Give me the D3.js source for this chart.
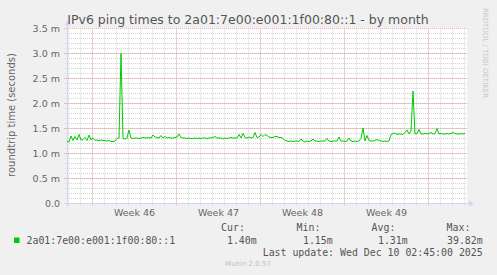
<!DOCTYPE html>
<html>
<head>
<meta charset="utf-8">
<script src="https://cdn.jsdelivr.net/npm/d3@7"></script>
<style>
  html, body { margin: 0; padding: 0; background: #f0f0f0; }
  svg { display: block; }
</style>
</head>
<body>
<script>
// ping samples (ms), one every 4 hours starting at startTime
const startTime = Date.UTC(2025, 10, 7, 21)
const stepHours = 4
const pingMs = [
  1.24, 1.23, 1.35, 1.26, 1.34, 1.27, 1.38, 1.27, 1.28, 1.32,
  1.26, 1.37, 1.27, 1.31, 1.26, 1.27, 1.26, 1.27, 1.26, 1.26,
  1.25, 1.26, 1.24, 1.24, 1.25, 1.30, 1.31, 3.00, 1.30, 1.29,
  1.31, 1.47, 1.31, 1.30, 1.31, 1.31, 1.30, 1.31, 1.32, 1.31,
  1.31, 1.32, 1.31, 1.37, 1.33, 1.32, 1.31, 1.36, 1.31, 1.34,
  1.31, 1.32, 1.31, 1.31, 1.32, 1.33, 1.39, 1.32, 1.31, 1.31,
  1.30, 1.31, 1.30, 1.30, 1.31, 1.30, 1.31, 1.30, 1.31, 1.31,
  1.30, 1.31, 1.31, 1.32, 1.34, 1.31, 1.31, 1.31, 1.29, 1.31,
  1.30, 1.31, 1.32, 1.31, 1.31, 1.31, 1.38, 1.31, 1.40, 1.32,
  1.31, 1.33, 1.31, 1.32, 1.42, 1.32, 1.33, 1.38, 1.34, 1.38,
  1.36, 1.33, 1.32, 1.32, 1.34, 1.34, 1.32, 1.32, 1.30, 1.26,
  1.25, 1.24, 1.25, 1.24, 1.25, 1.25, 1.24, 1.29, 1.25, 1.23,
  1.25, 1.24, 1.25, 1.29, 1.25, 1.25, 1.24, 1.25, 1.25, 1.25,
  1.30, 1.25, 1.24, 1.25, 1.25, 1.25, 1.33, 1.25, 1.25, 1.24,
  1.25, 1.31, 1.25, 1.24, 1.25, 1.24, 1.25, 1.30, 1.51, 1.25,
  1.36, 1.26, 1.25, 1.25, 1.26, 1.28, 1.26, 1.25, 1.24, 1.25,
  1.24, 1.25, 1.38, 1.40, 1.41, 1.38, 1.39, 1.39, 1.38, 1.42,
  1.47, 1.39, 1.45, 2.25, 1.39, 1.40, 1.48, 1.39, 1.39, 1.40,
  1.39, 1.40, 1.42, 1.39, 1.40, 1.50, 1.39, 1.40, 1.39, 1.39,
  1.40, 1.39, 1.40, 1.42, 1.40, 1.39, 1.39, 1.40, 1.39, 1.40
]

const yTicks = [0, 0.5, 1.0, 1.5, 2.0, 2.5, 3.0, 3.5]
const legendHeads = ['Cur:', 'Min:', 'Avg:', 'Max:']
const legendValues = ['1.40m', '1.15m', '1.31m', '39.82m']
const seriesName = '2a01:7e00:e001:1f00:80::1'
const title = 'IPv6 ping times to 2a01:7e00:e001:1f00:80::1 - by month'
const lastUpdate = 'Last update: Wed Dec 10 02:45:00 2025'

const W = 497, H = 275
const plotL = 67, plotR = 467, plotT = 28.5, plotB = 203.5

const svg = d3.select('body').append('svg')
  .attr('width', W).attr('height', H)
  .style('font-family', '"DejaVu Sans", sans-serif')

svg.append('rect').attr('width', W).attr('height', H).attr('fill', '#f0f0f0')

const x = d3.scaleUtc()
  .domain([new Date(startTime), new Date(startTime + 800 * 3600e3)])
  .range([plotL, plotR])
const y = d3.scaleLinear().domain([0, 3.5]).range([plotB, plotT])

svg.append('rect')
  .attr('x', plotL).attr('y', plotT)
  .attr('width', plotR - plotL).attr('height', plotB - plotT)
  .attr('fill', '#ffffff')

const grid = svg.append('g')
const minorColor = '#d4d4d4'
const majorColor = '#f0b4b4'

// minor grid: days and 0.1 m
const days = d3.utcDay.range(x.domain()[0], x.domain()[1])
grid.selectAll('.vmin').data(days).join('line')
  .attr('x1', d => Math.floor(x(d)) + 0.5).attr('x2', d => Math.floor(x(d)) + 0.5)
  .attr('y1', plotT).attr('y2', plotB + 2)
  .attr('stroke', minorColor).attr('stroke-dasharray', '1,1')

const minorY = d3.range(1, 35).map(i => i / 10)
grid.selectAll('.hmin').data(minorY).join('line')
  .attr('x1', plotL - 2).attr('x2', plotR)
  .attr('y1', d => y(d)).attr('y2', d => y(d))
  .attr('stroke', minorColor).attr('stroke-dasharray', '1,1')

// major grid: weeks and 0.5 m
const mondays = d3.utcMonday.range(x.domain()[0], x.domain()[1])
grid.selectAll('.vmaj').data(mondays).join('line')
  .attr('x1', d => Math.floor(x(d)) + 0.5).attr('x2', d => Math.floor(x(d)) + 0.5)
  .attr('y1', plotT).attr('y2', plotB + 3)
  .attr('stroke', majorColor).attr('stroke-dasharray', '1,1')

grid.selectAll('.hmaj').data(yTicks.slice(1)).join('line')
  .attr('x1', plotL - 3).attr('x2', plotR)
  .attr('y1', d => y(d)).attr('y2', d => y(d))
  .attr('stroke', majorColor).attr('stroke-dasharray', '1,1')

// axes with arrows
const axisColor = '#cfd6f8'
svg.append('line')
  .attr('x1', plotL - 3).attr('x2', plotR + 2)
  .attr('y1', plotB).attr('y2', plotB)
  .attr('stroke', axisColor)
svg.append('line')
  .attr('x1', plotL + 0.5).attr('x2', plotL + 0.5)
  .attr('y1', plotB + 3).attr('y2', plotT - 3)
  .attr('stroke', axisColor)
svg.append('path')
  .attr('d', `M${plotR + 2},${plotB - 3} L${plotR + 7},${plotB} L${plotR + 2},${plotB + 3} Z`)
  .attr('fill', axisColor)
svg.append('path')
  .attr('d', `M${plotL - 2.5},${plotT - 3} L${plotL + 0.5},${plotT - 8} L${plotL + 3.5},${plotT - 3} Z`)
  .attr('fill', axisColor)

// y tick labels
svg.selectAll('.ylab').data(yTicks).join('text')
  .attr('x', plotL - 7).attr('y', d => y(d) + 3.5)
  .attr('text-anchor', 'end')
  .attr('font-size', 9.5).attr('fill', '#666')
  .text(d => d === 0 ? '0.0' : d3.format('.1f')(d) + ' m')

// week labels, centred in each week
const weekFmt = d3.utcFormat('%V')
svg.selectAll('.xlab').data(mondays.slice(0, -1)).join('text')
  .attr('x', d => x(d3.utcHour.offset(d, 84)))
  .attr('y', 216)
  .attr('text-anchor', 'middle')
  .attr('font-size', 9.5).attr('fill', '#666')
  .text(d => 'Week ' + weekFmt(d))

// series line
const line = d3.line()
  .x((d, i) => x(new Date(startTime + i * stepHours * 3600e3)))
  .y(d => y(d))
svg.append('path')
  .datum(pingMs)
  .attr('d', line)
  .attr('fill', 'none')
  .attr('stroke', '#00cc00')
  .attr('stroke-width', 1)

// title and axis label
svg.append('text')
  .attr('x', 248).attr('y', 24)
  .attr('text-anchor', 'middle')
  .attr('font-size', 12.5).attr('fill', '#555')
  .text(title)

svg.append('text')
  .attr('transform', 'translate(15,115) rotate(-90)')
  .attr('text-anchor', 'middle')
  .attr('font-size', 10).attr('fill', '#666')
  .text('roundtrip time (seconds)')

svg.append('text')
  .attr('transform', 'translate(483,53) rotate(90)')
  .attr('text-anchor', 'middle')
  .attr('font-size', 7).attr('fill', '#c8c8c8')
  .text('RRDTOOL / TOBI OETIKER')

// legend
const mono = '"DejaVu Sans Mono", monospace'
svg.append('rect')
  .attr('x', 14).attr('y', 237.5).attr('width', 5.5).attr('height', 5.5)
  .attr('fill', '#00cc00')
svg.append('text')
  .attr('x', 26.5).attr('y', 243.5)
  .attr('font-family', mono).attr('font-size', 9.9).attr('fill', '#555')
  .text(seriesName)

const headX = [233, 308.5, 383.5, 458.5]
const valX = [256.7, 332.7, 407.7, 482.7]
svg.selectAll('.lhead').data(legendHeads).join('text')
  .attr('x', (d, i) => headX[i]).attr('y', 230.5)
  .attr('text-anchor', 'middle')
  .attr('font-family', mono).attr('font-size', 9.9).attr('fill', '#555')
  .text(d => d)
svg.selectAll('.lval').data(legendValues).join('text')
  .attr('x', (d, i) => valX[i]).attr('y', 243.5)
  .attr('text-anchor', 'end')
  .attr('font-family', mono).attr('font-size', 9.9).attr('fill', '#555')
  .text(d => d)
svg.append('text')
  .attr('x', 482.7).attr('y', 255.5)
  .attr('text-anchor', 'end')
  .attr('font-family', mono).attr('font-size', 9.9).attr('fill', '#555')
  .text(lastUpdate)

svg.append('text')
  .attr('x', 248).attr('y', 266)
  .attr('text-anchor', 'middle')
  .attr('font-size', 7).attr('fill', '#c0c0c0')
  .text('Munin 2.0.57')
</script>
</body>
</html>
